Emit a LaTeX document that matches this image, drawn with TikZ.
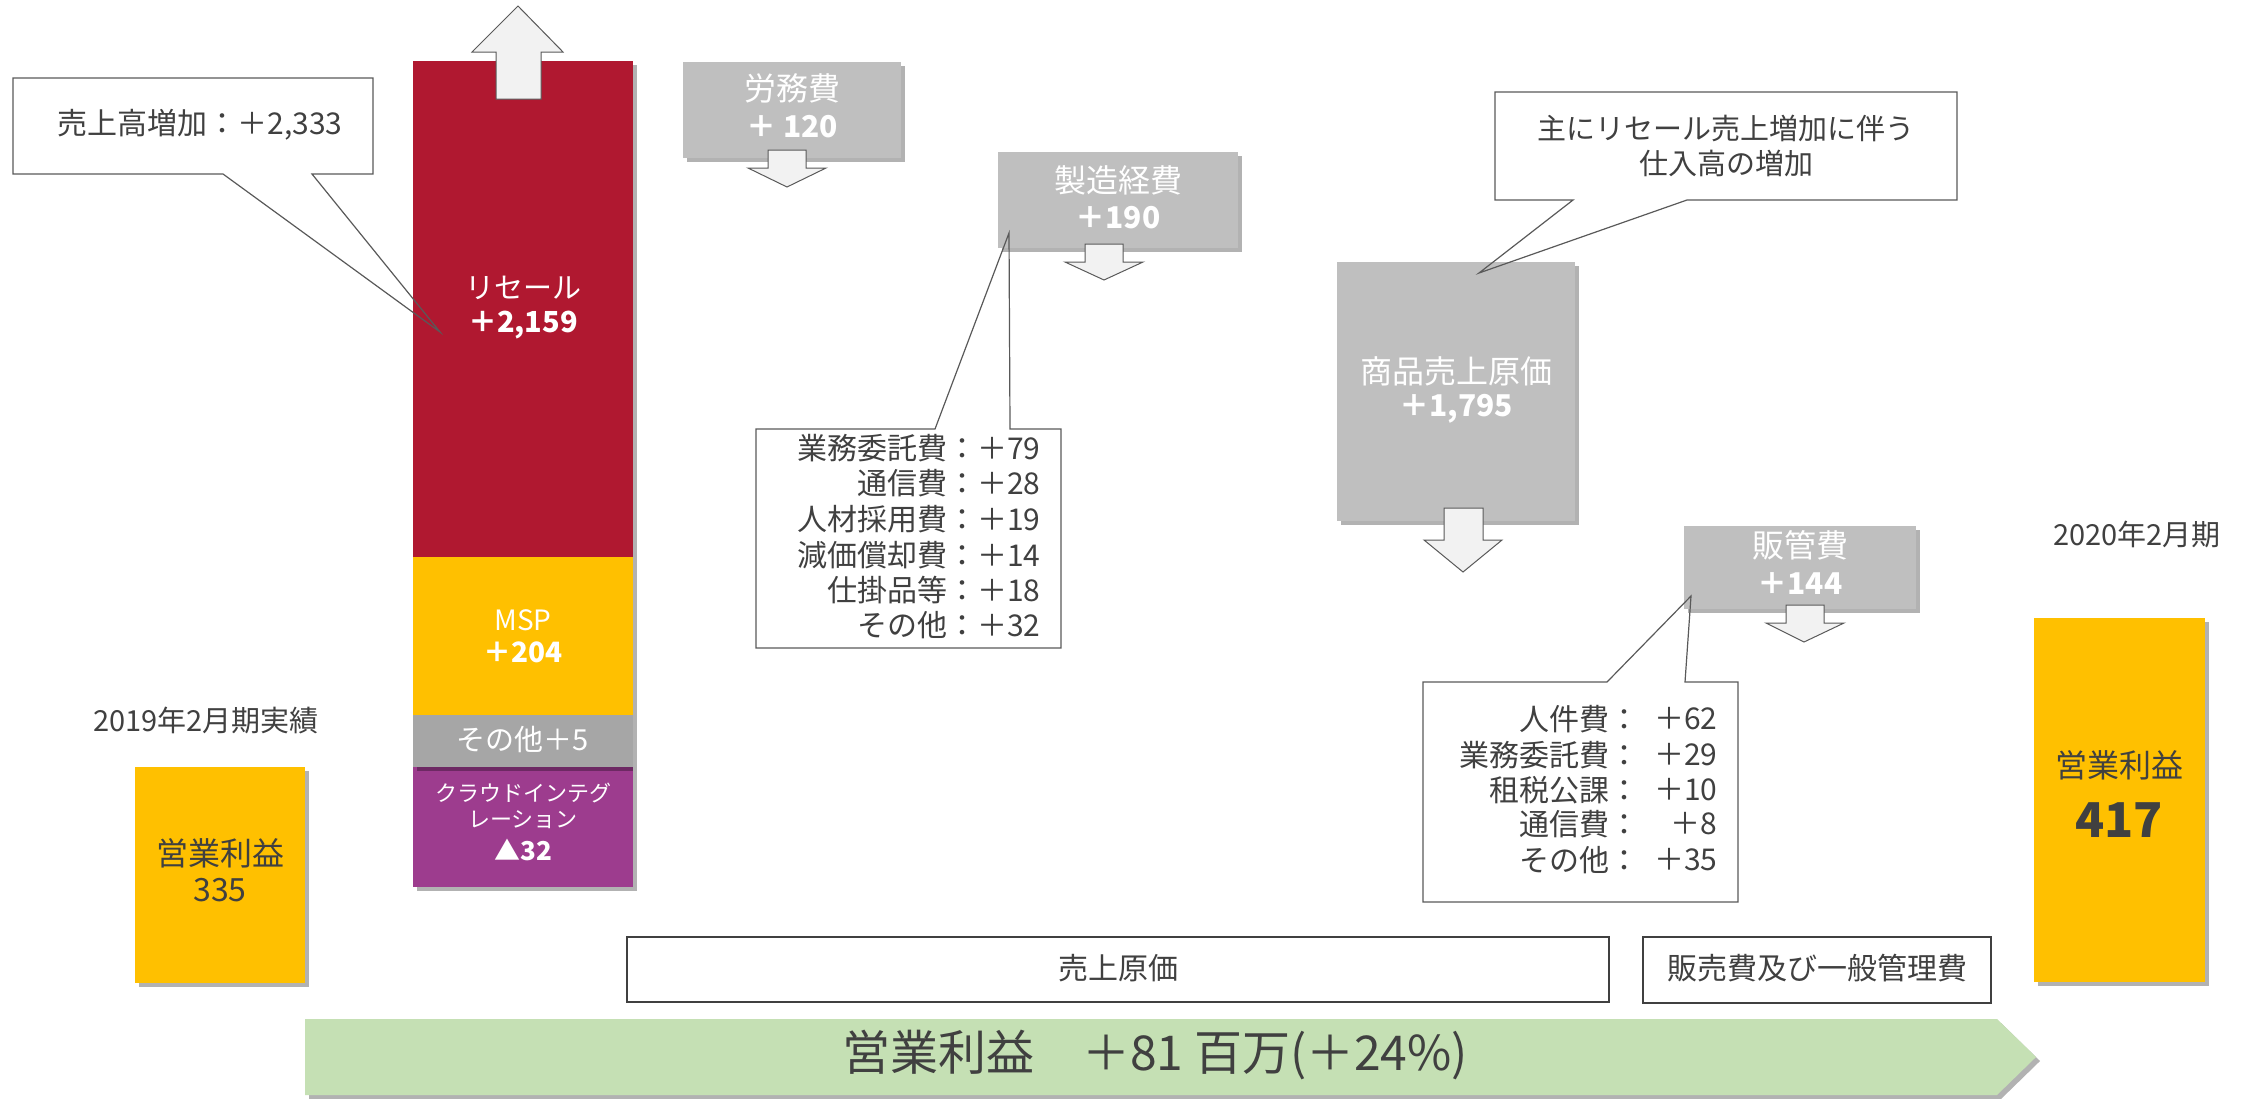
\documentclass[tikz,border=0pt]{standalone}
\usepackage{fontspec}
\setmainfont{Noto Sans CJK JP}
\usetikzlibrary{shadows,fit}
\definecolor{resred}{RGB}{176,24,48}
\definecolor{resyel}{RGB}{255,192,0}
\definecolor{resgray}{RGB}{191,191,191}
\definecolor{resgraytwo}{RGB}{166,166,166}
\definecolor{respur}{RGB}{157,60,142}
\definecolor{resgreen}{RGB}{197,224,180}
\definecolor{resdark}{RGB}{64,64,64}
\definecolor{resline}{RGB}{89,89,89}
\definecolor{resarrow}{RGB}{242,242,242}
\newcommand{\fsz}[1]{\fontsize{#1}{#1}\selectfont}
\tikzset{
  shad/.style={drop shadow={shadow xshift=2pt,shadow yshift=-2pt,opacity=0.3,fill=black}},
  segbox/.style={inner sep=0pt, outer sep=0pt, draw=none, shad},
  framebox/.style={inner sep=0pt, outer sep=0pt, draw=resdark, line width=1.3pt, fill=white},
  blockarrow/.style={fill=resarrow, draw=resline, line width=0.5pt, line join=miter},
  calloutline/.style={draw=resline, line width=0.6pt},
  wtext/.style={text=white, inner sep=0pt},
  dtext/.style={text=resdark, inner sep=0pt},
}
\begin{document}
\begin{tikzpicture}[x=0.5pt,y=-0.5pt]
\useasboundingbox (0,0) rectangle (2241,1098);
% stacked bar
\node[segbox, fill=resred, fit={(413,61) (633,557)}] (resale) {};
\node[segbox, fill=resyel, fit={(413,557) (633,715)}] (msp) {};
\node[segbox, fill=respur, fit={(413,767) (633,887)}] (cloud) {};
\node[segbox, fill=resgraytwo, fit={(413,715) (633,767)}] (other) {};
% up arrow
\draw[blockarrow] (496,99) -- (496,52) -- (472,52) -- (518,6) -- (563,52) -- (541,52) -- (541,99) -- cycle;
% yellow boxes
\node[segbox, fill=resyel, fit={(135,767) (305,983)}] (opA) {};
\node[segbox, fill=resyel, fit={(2034,618) (2205,982)}] (opB) {};
% gray boxes
\node[segbox, fill=resgray, fit={(683,62) (901,158)}] (labor) {};
\node[segbox, fill=resgray, fit={(998,152) (1238,248)}] (mfg) {};
\node[segbox, fill=resgray, fit={(1337,262) (1575,521)}] (goods) {};
\node[segbox, fill=resgray, fit={(1684,526) (1916,609)}] (sga) {};
% down arrows
\draw[blockarrow] (768,150) -- (806,150) -- (806,168) -- (826,168) -- (787,187) -- (748,168) -- (768,168) -- cycle;
\draw[blockarrow] (1085,244) -- (1123,244) -- (1123,262) -- (1143,262) -- (1104,280) -- (1065,262) -- (1085,262) -- cycle;
\draw[blockarrow] (1444,508) -- (1483,508) -- (1483,540) -- (1502,540) -- (1463,572) -- (1424,540) -- (1444,540) -- cycle;
\draw[blockarrow] (1786,605) -- (1824,605) -- (1824,623) -- (1844,623) -- (1804,642) -- (1766,623) -- (1786,623) -- cycle;
% green arrow
\path[fill=resgreen, shad] (305,1019) -- (1997,1019) -- (2036,1057) -- (1997,1095) -- (305,1095) -- cycle;
\node[dtext, font={\fsz{24pt}}] (optotal) at (1155,1055) {営業利益　＋81 百万(＋24\%)};
% frame boxes
\node[framebox, fit={(627,937) (1609,1002)}] (cogs) {};
\node[framebox, fit={(1643,937) (1991,1003)}] (sgabox) {};
\node[dtext, font={\fsz{15pt}}] (tcogs) at (1118,968) {売上原価};
\node[dtext, font={\fsz{15pt}}] (tsgabox) at (1817,968) {販売費及び一般管理費};
% callouts
\coordinate (tipA) at (440,332);
\draw[calloutline] (13,78) -- (373,78) -- (373,174) -- (312,174) -- (tipA) -- (223,174) -- (13,174) -- cycle;
\node[dtext, font={\fsz{15pt}}] (calA) at (200,125) {売上高増加：＋2,333};
\coordinate (tipB) at (1009,233);
\draw[calloutline] (756,429) -- (935,429) -- (tipB) -- (1010,429) -- (1061,429) -- (1061,648) -- (756,648) -- cycle;
\foreach \t/\yy [count=\i] in {業務委託費：＋79/448, 通信費：＋28/483, 人材採用費：＋19/519, 減価償却費：＋14/555, 仕掛品等：＋18/590, その他：＋32/625}
  \node[dtext, anchor=east, font={\fsz{15pt}}] (calB\i) at (1041,\yy) {\t};
\coordinate (tipC) at (1479,273);
\draw[calloutline] (1495,92) -- (1957,92) -- (1957,200) -- (1687,200) -- (tipC) -- (1573,200) -- (1495,200) -- cycle;
\node[dtext, font={\fsz{14.5pt}}] (calCa) at (1726,128) {主にリセール売上増加に伴う};
\node[dtext, font={\fsz{14.5pt}}] (calCb) at (1726,163) {仕入高の増加};
\coordinate (tipD) at (1691,596);
\draw[calloutline] (1423,682) -- (1607,682) -- (tipD) -- (1685,682) -- (1738,682) -- (1738,902) -- (1423,902) -- cycle;
\foreach \l/\v/\yy [count=\i] in {人件費：/＋62/719, 業務委託費：/＋29/755, 租税公課：/＋10/790, 通信費：/＋8/824, その他：/＋35/860}{
  \node[dtext, anchor=east, font={\fsz{15pt}}] (calDl\i) at (1640,\yy) {\l};
  \node[dtext, anchor=east, font={\fsz{15pt}}] (calDv\i) at (1718,\yy) {\v};
}
% bar texts
\node[wtext, font={\fsz{14.5pt}}] (tresale) at (523,288) {リセール};
\node[wtext, font={\fsz{14.5pt}\bfseries}] (vresale) at (523,325) {＋2,159};
\node[wtext, font={\fsz{14pt}}] (tmsp) at (523,620) {MSP};
\node[wtext, font={\fsz{14pt}\bfseries}] (vmsp) at (523,652) {＋204};
\node[wtext, font={\fsz{14.5pt}}] (tother) at (523,739) {その他＋5};
\node[wtext, font={\fsz{11pt}}] (tclouda) at (523,793) {クラウドインテグ};
\node[wtext, font={\fsz{11pt}}] (tcloudb) at (523,820) {レーション};
\node[wtext, font={\fsz{13pt}\bfseries}] (vcloud) at (523,850) {▲32};
% yellow texts
\node[dtext, font={\fsz{14.5pt}}] (yearA) at (206,720) {2019年2月期実績};
\node[dtext, font={\fsz{16pt}}] (topA) at (220,853) {営業利益};
\node[dtext, font={\fsz{16pt}}] (vopA) at (220,890) {335};
\node[dtext, font={\fsz{14.5pt}}] (yearB) at (2137,534) {2020年2月期};
\node[dtext, font={\fsz{16pt}}] (topB) at (2119,765) {営業利益};
\node[dtext, font={\fsz{24pt}\bfseries}] (vopB) at (2119,820) {417};
% gray box texts
\node[wtext, font={\fsz{16pt}}] (tlabor) at (792,88) {労務費};
\node[wtext, font={\fsz{15pt}\bfseries}] (vlabor) at (792,127) {＋ 120};
\node[wtext, font={\fsz{16pt}}] (tmfg) at (1118,180) {製造経費};
\node[wtext, font={\fsz{15pt}\bfseries}] (vmfg) at (1118,218) {＋190};
\node[wtext, font={\fsz{16pt}}] (tgoods) at (1456,371) {商品売上原価};
\node[wtext, font={\fsz{15pt}\bfseries}] (vgoods) at (1456,409) {＋1,795};
\node[wtext, font={\fsz{16pt}}] (tsga) at (1800,545) {販管費};
\node[wtext, font={\fsz{15pt}\bfseries}] (vsga) at (1800,584) {＋144};
\end{tikzpicture}
\end{document}
